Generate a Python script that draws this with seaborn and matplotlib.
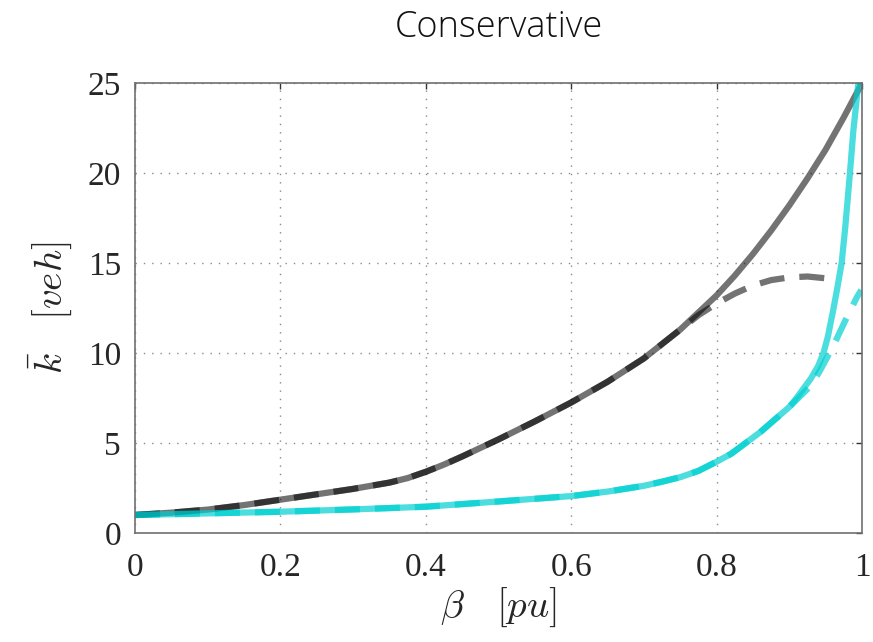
import numpy as np
import pandas as pd
import matplotlib
matplotlib.use("Agg")
import matplotlib.pyplot as plt
import seaborn as sns

# values
beta_solid_gray = [0.0, 0.05, 0.1, 0.15, 0.2, 0.25, 0.3, 0.35, 0.375, 0.4, 0.425, 0.45, 0.5,
                   0.55, 0.6, 0.65, 0.7, 0.75, 0.8, 0.825, 0.85, 0.875, 0.9, 0.925, 0.95,
                   0.975, 1.0]
k_solid_gray = [1.0, 1.13, 1.3, 1.55, 1.85, 2.15, 2.45, 2.8, 3.05, 3.4, 3.8, 4.25, 5.2,
                6.2, 7.25, 8.4, 9.7, 11.3, 13.2, 14.3, 15.5, 16.8, 18.2, 19.7, 21.3,
                23.1, 25.0]

beta_dash_gray = [0.0, 0.05, 0.1, 0.15, 0.2, 0.25, 0.3, 0.35, 0.375, 0.4, 0.425, 0.45, 0.5,
                  0.55, 0.6, 0.65, 0.7, 0.75, 0.775, 0.8, 0.825, 0.85, 0.875, 0.9, 0.925,
                  0.95, 0.968]
k_dash_gray = [1.0, 1.13, 1.3, 1.55, 1.85, 2.15, 2.45, 2.8, 3.05, 3.4, 3.8, 4.25, 5.2,
               6.2, 7.25, 8.4, 9.7, 11.3, 12.1, 12.75, 13.3, 13.75, 14.05, 14.2, 14.25,
               14.15, 14.0]

beta_solid_cyan = [0.0, 0.1, 0.2, 0.3, 0.4, 0.5, 0.6, 0.65, 0.7, 0.725, 0.75, 0.775, 0.8,
                   0.82, 0.84, 0.86, 0.88, 0.9, 0.91, 0.93, 0.94, 0.947, 0.953, 0.96,
                   0.966, 0.972, 0.977, 0.983, 0.988, 0.995]
k_solid_cyan = [1.0, 1.09, 1.18, 1.31, 1.46, 1.75, 2.05, 2.3, 2.62, 2.85, 3.1, 3.45, 3.96,
                4.4, 5.0, 5.6, 6.3, 7.0, 7.5, 8.6, 9.3, 10.0, 10.9, 12.3, 13.6, 15.0,
                17.0, 19.8, 22.3, 25.0]

beta_dash_cyan = [0.0, 0.1, 0.2, 0.3, 0.4, 0.5, 0.6, 0.65, 0.7, 0.725, 0.75, 0.775, 0.8,
                  0.82, 0.84, 0.86, 0.88, 0.9, 0.91, 0.93, 0.942, 0.96, 0.977, 0.993,
                  0.999]
k_dash_cyan = [1.0, 1.09, 1.18, 1.31, 1.46, 1.75, 2.05, 2.3, 2.62, 2.85, 3.1, 3.45, 3.96,
               4.4, 5.0, 5.6, 6.3, 7.0, 7.4, 8.2, 9.0, 10.35, 11.8, 13.1, 13.5]

xticks = [0, 0.2, 0.4, 0.6, 0.8, 1.0]
xtick_labels = ["0", "0.2", "0.4", "0.6", "0.8", "1"]
yticks = [0, 5, 10, 15, 20, 25]

sns.set_style("white")
plt.rcParams["font.family"] = ["Liberation Serif", "DejaVu Serif"]
plt.rcParams["mathtext.fontset"] = "cm"

fig = plt.figure(figsize=(8.73, 6.42), dpi=100)
ax = fig.add_axes([0.1546, 0.1698, 0.8328, 0.7009])

gray = (0, 0, 0, 0.55)
cyan = (0.0, 0.81, 0.82, 0.7)

sns.lineplot(x=beta_solid_gray, y=k_solid_gray, ax=ax, color=gray, linewidth=4.5, sort=False)
sns.lineplot(x=beta_solid_cyan, y=k_solid_cyan, ax=ax, color=cyan, linewidth=4.5, sort=False)
sns.lineplot(x=beta_dash_gray, y=k_dash_gray, ax=ax, color=gray, linewidth=4.5, sort=False,
             linestyle=(0, (4.0, 2.4)))
sns.lineplot(x=beta_dash_cyan, y=k_dash_cyan, ax=ax, color=cyan, linewidth=4.5, sort=False,
             linestyle=(0, (4.0, 2.4)))

ax.set_xlim(0, 1)
ax.set_ylim(0, 25)
ax.set_xticks(xticks)
ax.set_xticklabels(xtick_labels)
ax.set_yticks(yticks)
ax.grid(True, linestyle=(0, (1, 5)), color="#8a8a8a", linewidth=1.0)
ax.tick_params(direction="in", length=4.5, width=1.0, color="#333333",
               top=True, right=True, labelsize=24)
ax.tick_params(axis="x", pad=14)
ax.tick_params(axis="y", pad=10)
for sp in ax.spines.values():
    sp.set_color("#707070")
    sp.set_linewidth(1.2)

ax.set_xlabel(r"$\beta\ \ \ [pu]$", fontsize=28, labelpad=2)
ax.set_ylabel(r"$\bar{k}\ \ \ [veh]$", fontsize=28, labelpad=10)
ax.set_title("Conservative", fontsize=26, family=["Open Sans", "DejaVu Sans"],
             fontweight="light", pad=33, color="#111111")

fig.savefig("out.png", dpi=100)
